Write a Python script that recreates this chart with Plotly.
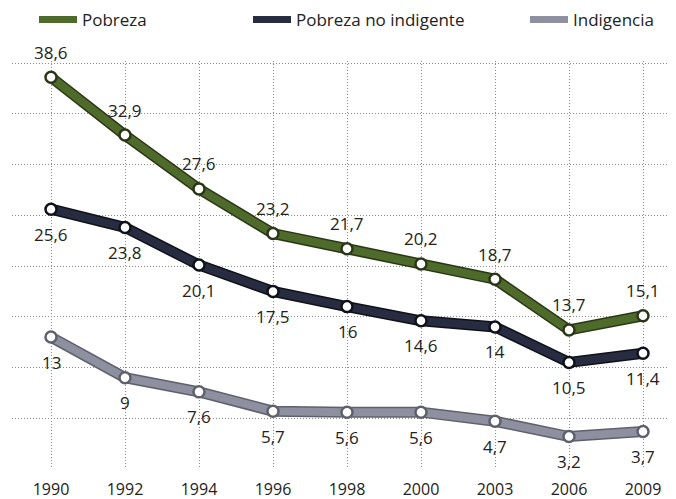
import plotly.graph_objects as go

# ---- data ----
years = ["1990", "1992", "1994", "1996", "1998", "2000", "2003", "2006", "2009"]
pobreza = [38.6, 32.9, 27.6, 23.2, 21.7, 20.2, 18.7, 13.7, 15.1]
pobreza_no_indigente = [25.6, 23.8, 20.1, 17.5, 16, 14.6, 14, 10.5, 11.4]
indigencia = [13, 9, 7.6, 5.7, 5.6, 5.6, 4.7, 3.2, 3.7]
series_names = ["Pobreza", "Pobreza no indigente", "Indigencia"]
grid_values = [5, 10, 15, 20, 25, 30, 35, 40]

FONT = "Open Sans, Lato, sans-serif"
# the page body keeps its default 8px margin, so the figure is drawn 8px smaller
W, H = 668, 491

styles = [
    dict(color="#4f6b2c", edge="#2a3716", side=1, legend="legend", lx=26),
    dict(color="#282c40", edge="#0f111b", side=-1, legend="legend2", lx=240),
    dict(color="#8e909f", edge="#5e606e", side=-1, legend="legend3", lx=517),
]
values = [pobreza, pobreza_no_indigente, indigencia]

fig = go.Figure()
annotations = []
for name, vals, st in zip(series_names, values, styles):
    # dark outline under the line
    fig.add_trace(go.Scatter(x=years, y=vals, mode="lines",
                             line=dict(color=st["edge"], width=11),
                             showlegend=False, hoverinfo="skip"))
    # colored line with hollow markers
    fig.add_trace(go.Scatter(x=years, y=vals, mode="lines+markers",
                             line=dict(color=st["color"], width=8),
                             marker=dict(size=11, color="white",
                                         line=dict(color=st["edge"], width=2.5)),
                             name=name, showlegend=False))
    # legend swatch
    fig.add_trace(go.Scatter(x=[None], y=[None], mode="lines",
                             line=dict(color=st["color"], width=7),
                             name=name, legend=st["legend"], showlegend=True))
    for i, v in enumerate(vals):
        annotations.append(dict(
            x=i, y=v, xref="x", yref="y", showarrow=False,
            text=f"{v:g}".replace(".", ","),
            yshift=25 * st["side"],
            font=dict(family=FONT, size=17, color="#222222")))

layout_legends = {}
for st in styles:
    layout_legends[st["legend"]] = dict(
        orientation="h", xref="container", yref="container",
        x=st["lx"] / W, xanchor="left",
        y=1 - 12 / H, yanchor="middle",
        font=dict(family=FONT, size=17, color="#222222"),
        bgcolor="rgba(0,0,0,0)", itemwidth=38)

fig.update_layout(
    width=W, height=H,
    margin=dict(l=4, r=0, t=53, b=30, autoexpand=False),
    paper_bgcolor="white", plot_bgcolor="white",
    font=dict(family=FONT, size=17, color="#222222"),
    annotations=annotations,
    **layout_legends,
)
fig.update_xaxes(type="category", range=[-0.527, 8.446], automargin=False,
                 showgrid=True, gridcolor="#8c8c8c", griddash="1px,2px", gridwidth=1,
                 showline=False, zeroline=False,
                 ticks="outside", ticklen=6, tickcolor="rgba(0,0,0,0)",
                 tickfont=dict(family=FONT, size=16, color="#222222"))
fig.update_yaxes(range=[0, 40.2], tickvals=grid_values, showticklabels=False,
                 automargin=False,
                 showgrid=True, gridcolor="#8c8c8c", griddash="1px,2px", gridwidth=1,
                 zeroline=False, showline=False)

fig.write_html("out.html")
